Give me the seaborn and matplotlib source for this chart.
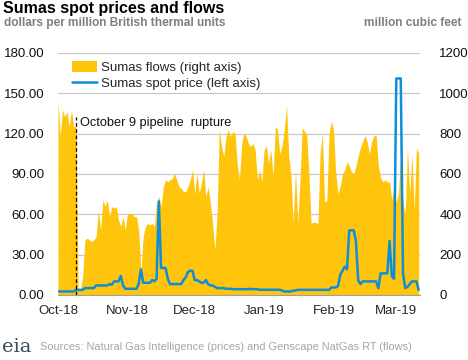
import numpy as np
import pandas as pd
import matplotlib
matplotlib.use("Agg")
import matplotlib.pyplot as plt
import seaborn as sns

# daily series starting Oct 1, 2018
start_date = "2018-10-01"

# Sumas flows, million cubic feet (right axis)
flows = [
    967, 785, 917, 884, 909, 835, 917, 835, 835, 20, 30, 90, 273, 281, 273, 264,
    273, 289, 421, 322, 471, 438, 471, 388, 438, 430, 438, 372, 339, 388, 322, 405,
    397, 405, 388, 388, 322, 107, 289, 339, 355, 347, 355, 339, 455, 488, 438, 537,
    570, 562, 570, 578, 603, 570, 537, 529, 512, 512, 537, 570, 620, 504, 603, 504,
    554, 620, 488, 537, 455, 355, 223, 400, 818, 736, 686, 785, 818, 785, 810, 802,
    650, 570, 752, 802, 785, 752, 736, 752, 720, 570, 620, 560, 720, 740, 650, 720,
    590, 835, 820, 700, 740, 820, 940, 690, 590, 360, 620, 355, 560, 830, 810, 800,
    600, 355, 360, 360, 350, 700, 800, 460, 470, 800, 860, 820, 600, 500, 540, 600,
    620, 660, 640, 610, 600, 640, 690, 730, 760, 790, 760, 700, 760, 790, 790, 640,
    580, 560, 570, 560, 560, 470, 540, 455, 510, 700, 460, 400, 730, 500, 700, 420,
    730, 700,
]

# Sumas spot price, dollars per MMBtu (left axis)
prices = [
    2.5, 2.5, 2.5, 2.5, 2.5, 2.5, 2.5, 2.5, 3.7, 3.7, 3.7, 3.7, 5.0, 5.0, 5.0, 5.0,
    5.0, 7.0, 7.0, 7.0, 7.0, 7.0, 7.0, 8.0, 7.5, 10.0, 10.0, 10.0, 14.0, 7.0, 4.5, 4.5,
    4.5, 4.5, 4.5, 4.5, 8.0, 19.0, 9.0, 9.0, 9.0, 9.0, 11.0, 10.0, 12.0, 69.5, 20.0, 20.0,
    20.0, 12.0, 8.0, 8.0, 8.0, 8.0, 8.0, 8.0, 11.0, 13.0, 17.0, 18.0, 18.0, 11.0, 11.0, 10.0,
    9.0, 9.0, 11.0, 8.0, 7.0, 7.0, 6.0, 5.0, 5.0, 5.0, 5.0, 4.5, 4.5, 4.5, 4.2, 4.2,
    4.2, 4.2, 4.2, 4.2, 4.2, 4.2, 4.5, 4.2, 4.2, 4.2, 3.8, 3.8, 3.8, 3.8, 3.8, 3.8,
    3.8, 3.8, 3.8, 3.8, 3.2, 2.5, 2.5, 2.5, 2.5, 3.2, 3.2, 3.7, 3.7, 3.7, 3.7, 3.7,
    3.7, 3.7, 3.7, 3.7, 3.7, 3.7, 3.7, 3.7, 3.7, 3.7, 5.5, 5.5, 5.5, 6.5, 15.0, 18.0,
    21.0, 19.0, 48.0, 48.0, 48.0, 40.0, 11.0, 8.0, 10.0, 10.0, 10.0, 10.0, 10.0, 10.0, 10.0, 5.0,
    16.0, 16.0, 16.0, 16.0, 40.0, 14.0, 12.0, 161.0, 161.0, 161.0, 16.0, 5.0, 6.0, 8.0, 10.0, 10.0,
    10.0, 3.7, 3.2,
]
n = min(len(flows), len(prices))
df = pd.DataFrame({
    "date": pd.date_range(start_date, periods=n, freq="D"),
    "flows": flows[:n],
    "price": prices[:n],
})

price_ticks = [0, 30, 60, 90, 120, 150, 180]
flow_ticks = [0, 200, 400, 600, 800, 1000, 1200]
month_ticks = ["2018-10-01", "2018-11-01", "2018-12-01", "2019-01-01", "2019-02-01", "2019-03-01"]
month_labels = ["Oct-18", "Nov-18", "Dec-18", "Jan-19", "Feb-19", "Mar-19"]

rupture_date = "2018-10-09"

GOLD = "#FFC40C"
BLUE = "#0F8DD8"

sns.set_style("white")
plt.rcParams["font.family"] = ["Liberation Sans", "DejaVu Sans"]

fig = plt.figure(figsize=(4.68, 3.6), dpi=100)
ax_flow = fig.add_axes([0.124, 0.181, 0.773, 0.672])
ax = ax_flow.twinx()

# flows as area on the right axis (drawn underneath)
ax_flow.fill_between(df["date"], 0, df["flows"], color=GOLD, lw=0, zorder=2,
                     label="Sumas flows (right axis)")
ax_flow.set_ylim(0, 1200)
ax_flow.set_yticks(flow_ticks)
ax_flow.yaxis.tick_right()
ax_flow.grid(axis="y", color="#c8c8c8", lw=0.9, zorder=0)
ax_flow.grid(axis="x", visible=False)
ax_flow.set_axisbelow(True)

# price line on the left axis
sns.lineplot(data=df, x="date", y="price", ax=ax, color=BLUE, lw=1.8,
             label="Sumas spot price (left axis)", legend=False)
ax.yaxis.tick_left()
ax.set_ylim(0, 180)
ax.set_yticks(price_ticks)
ax.set_yticklabels([f"{v:.2f}" for v in price_ticks])
ax.set_ylabel("")
ax.set_xlabel("")
ax_flow.set_xlabel("")

x0 = pd.Timestamp(start_date)
x1 = df["date"].iloc[-1] + pd.Timedelta(days=0.5)
ax_flow.set_xlim(x0, x1)
ax.set_xlim(x0, x1)

ax_flow.set_xticks(pd.to_datetime(month_ticks))
ax_flow.set_xticklabels(month_labels)

for a in (ax, ax_flow):
    for s in a.spines.values():
        s.set_visible(False)
ax_flow.spines["bottom"].set_visible(True)
ax_flow.spines["bottom"].set_color("#a0a0a0")

ax_flow.tick_params(axis="x", length=4, color="#a0a0a0", labelsize=9.5, pad=3)
ax_flow.tick_params(axis="y", length=0, labelsize=9.5, pad=14, labelcolor="#111111")
ax.tick_params(axis="y", length=0, labelsize=9.5, pad=10, labelcolor="#111111")
ax.tick_params(axis="x", length=0, labelbottom=False)

# pipeline rupture marker
rd = pd.Timestamp(rupture_date)
ax.plot([rd, rd], [0, 132], color="black", lw=0.9, ls=(0, (3, 2)), zorder=5)
ax.text(rd + pd.Timedelta(days=1.6), 128, "October 9 pipeline  rupture",
        fontsize=9.2, va="center", ha="left", color="#111111", zorder=6)

# legend
h1, l1 = ax_flow.get_legend_handles_labels()
h2, l2 = ax.get_legend_handles_labels()
leg = ax.legend(h1 + h2, l1 + l2, loc="upper left", bbox_to_anchor=(0.025, 0.99),
                frameon=False, fontsize=9.5, handlelength=1.9, handleheight=1.0,
                labelspacing=0.2, borderaxespad=0.0, handletextpad=0.25)

fig.text(0.006, 0.975, "Sumas spot prices and flows", fontsize=11.5,
         fontweight="bold", va="center", ha="left", color="black")
fig.text(0.008, 0.937, "dollars per million British thermal units", fontsize=8.6,
         fontweight="bold", va="center", ha="left", color="#7f7f7f")
fig.text(0.987, 0.937, "million cubic feet", fontsize=8.6,
         fontweight="bold", va="center", ha="right", color="#7f7f7f")
fig.text(0.004, 0.036, "eia", fontsize=14, family="DejaVu Serif",
         va="center", ha="left", color="#3c4a5a")
fig.text(0.086, 0.036, "Sources: Natural Gas Intelligence (prices) and Genscape NatGas RT (flows)",
         fontsize=7.9, va="center", ha="left", color="#a6a6a6")

fig.savefig("out.png", dpi=100)
